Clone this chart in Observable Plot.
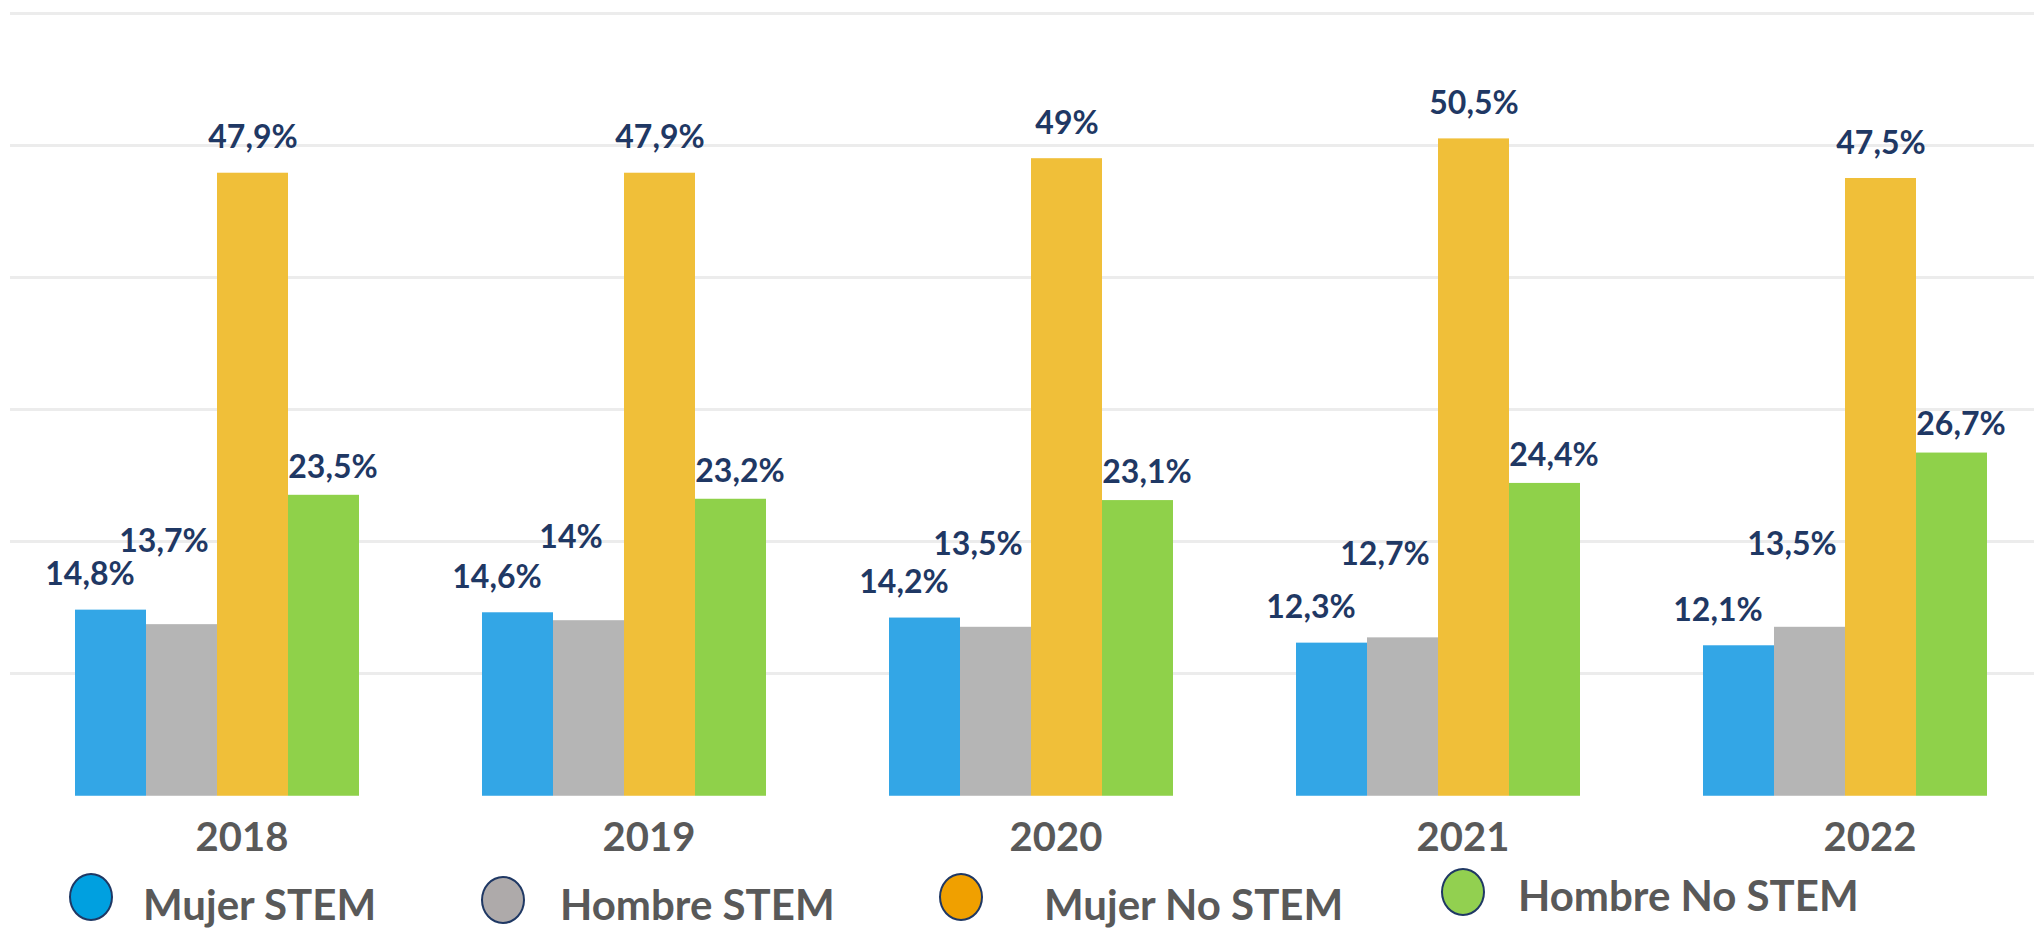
<!DOCTYPE html>
<html>
<head>
<meta charset="utf-8">
<script src="https://cdn.jsdelivr.net/npm/d3@7"></script>
<script src="https://cdn.jsdelivr.net/npm/@observablehq/plot@0.6"></script>
<style>
  html, body { margin: 0; padding: 0; background: #ffffff; }
  #wrap { position: relative; width: 2034px; height: 928px; overflow: hidden; font-family: Lato, "Open Sans", sans-serif; }
  #legend { position: absolute; left: 0; top: 868px; width: 2034px; height: 60px; }
  .dot { position: absolute; width: 44px; height: 48px; border-radius: 50%; border: 2.5px solid #1f3864; box-sizing: border-box; transform: translate(-50%, -50%); }
  .lab { position: absolute; font-size: 42px; font-weight: 700; color: #595959; transform: translateY(-50%); white-space: nowrap; line-height: 1; }
</style>
</head>
<body>
<div id="wrap">
  <div id="chart"></div>
  <div id="legend"></div>
</div>
<script>
// ---- data ----
const years = ["2018", "2019", "2020", "2021", "2022"];
const series = ["Mujer STEM", "Hombre STEM", "Mujer No STEM", "Hombre No STEM"];
const mujerStem    = [14.8, 14.6, 14.2, 12.3, 12.1];
const hombreStem   = [13.7, 14.0, 13.5, 12.7, 13.5];
const mujerNoStem  = [47.9, 47.9, 49.0, 50.5, 47.5];
const hombreNoStem = [23.5, 23.2, 23.1, 24.4, 26.7];
const gridValues   = [10, 20, 30, 40, 50, 60];

// ---- styles ----
const barColors    = ["#33a6e6", "#b5b5b5", "#f0bf39", "#8fd14a"];
const legendColors = ["#00a0e0", "#aeaaaa", "#f0a000", "#92d050"];
const labelOffsets = [
  {dx: -21, dy: -35},
  {dx: -18, dy: -83},
  {dx: 0,   dy: -35},
  {dx: 9,   dy: -28}
];
const barBase = 0.7;

const valuesBySeries = [mujerStem, hombreStem, mujerNoStem, hombreNoStem];
const rows = [];
years.forEach((y, i) => series.forEach((s, j) => rows.push({year: y, series: s, value: valuesBySeries[j][i]})));
const fmt = v => String(v).replace(".", ",") + "%";

const chart = Plot.plot({
  width: 2034,
  height: 868,
  marginLeft: 71,
  marginRight: 43,
  marginTop: 13,
  marginBottom: 63,
  fx: {domain: years, paddingInner: 0.294, paddingOuter: 0, label: null},
  x: {domain: series, padding: 0, axis: null},
  y: {domain: [0, 60], axis: null},
  color: {domain: series, range: barColors},
  style: {fontFamily: "Lato, 'Open Sans', sans-serif", background: "#ffffff"},
  marks: [
    Plot.ruleY(gridValues, {stroke: "#ececec", strokeWidth: 3, insetLeft: -63, insetRight: -63}),
    Plot.barY(rows, {fx: "year", x: "series", y1: d => barBase, y2: "value", fill: "series"}),
    ...series.map((s, j) => Plot.text(rows.filter(r => r.series === s), {
      fx: "year", x: "series", y: "value", text: d => fmt(d.value),
      dx: labelOffsets[j].dx, dy: labelOffsets[j].dy,
      fill: "#1f3864", fontSize: 32, fontWeight: "bold"
    })),
    Plot.axisFx({anchor: "bottom", tickSize: 0, tickPadding: 17, fontSize: 40, fontWeight: "bold", fill: "#595959", label: null, dx: 25})
  ]
});
document.getElementById("chart").appendChild(chart);

// ---- legend ----
const legendPos = [
  {cx: 91,   cy: 29, tx: 143,  ty: 36},
  {cx: 503,  cy: 32, tx: 560,  ty: 36},
  {cx: 961,  cy: 29, tx: 1044, ty: 36},
  {cx: 1463, cy: 24, tx: 1518, ty: 27}
];
const legend = document.getElementById("legend");
series.forEach((s, j) => {
  const d = document.createElement("div");
  d.className = "dot";
  d.style.left = legendPos[j].cx + "px";
  d.style.top = legendPos[j].cy + "px";
  d.style.background = legendColors[j];
  legend.appendChild(d);
  const t = document.createElement("div");
  t.className = "lab";
  t.style.left = legendPos[j].tx + "px";
  t.style.top = legendPos[j].ty + "px";
  t.textContent = s;
  legend.appendChild(t);
});
</script>
</body>
</html>
